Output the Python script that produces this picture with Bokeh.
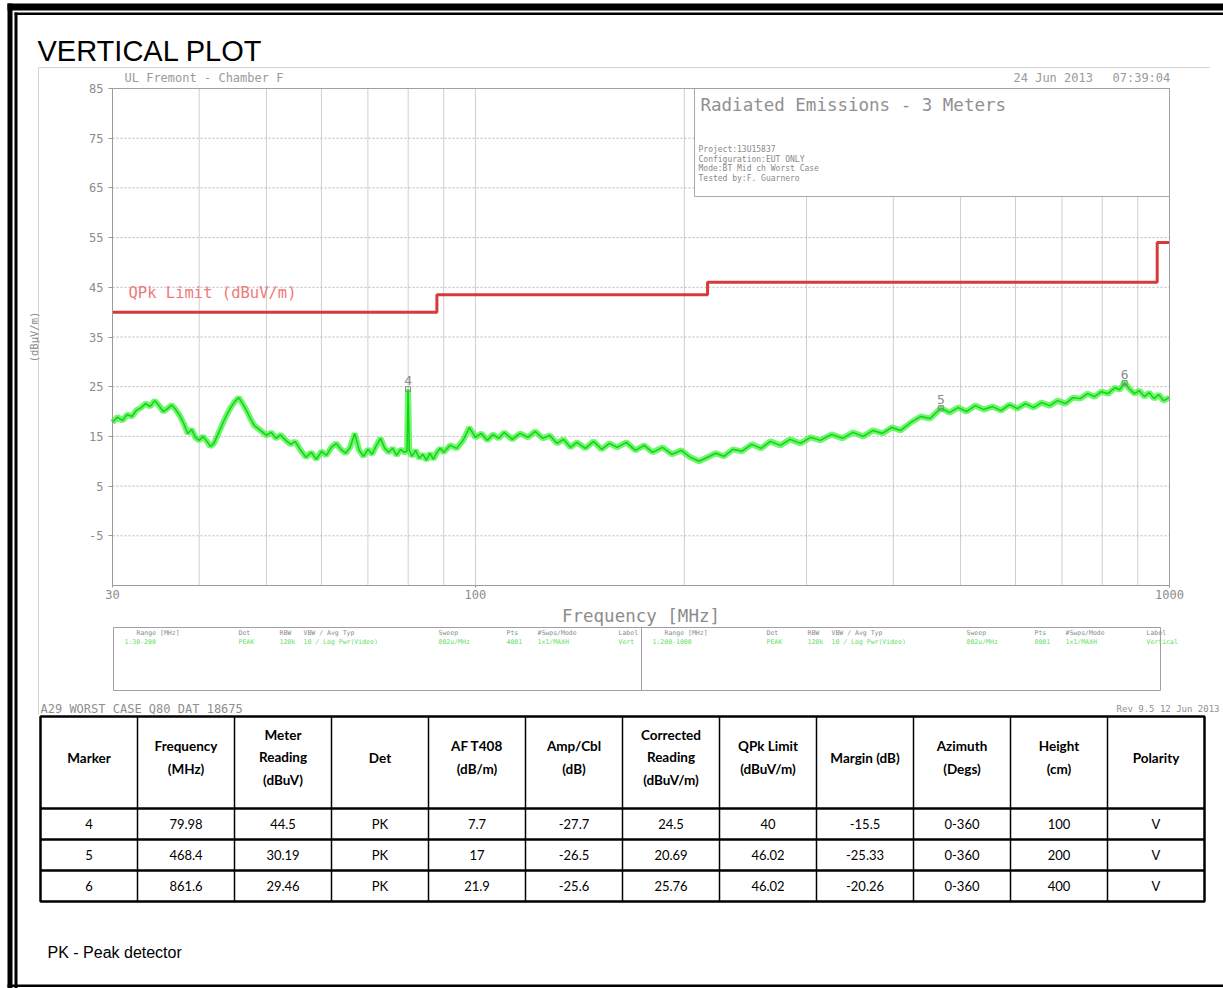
import math
from bokeh.plotting import figure
from bokeh.models import Range1d, LogScale, LinearAxis, FixedTicker, PrintfTickFormatter
from bokeh.core.properties import value
from bokeh.embed import file_html
from bokeh.resources import INLINE

# ---------------- data ----------------
freq_mhz = [30.0, 30.5, 31.0, 31.5, 32.0, 32.5, 33.0, 33.5, 34.0, 34.5, 35.0, 35.5, 36.0, 36.5,
            37.0, 37.5, 38.0, 38.5, 39.0, 39.5, 40.0, 40.5, 41.0, 41.5, 42.0, 42.5, 43.0, 43.5,
            44.0, 44.5, 45.0, 45.6, 46.2, 46.8, 47.4, 48.0, 48.6, 49.2, 50.0, 50.8, 51.6, 52.4,
            53.3, 54.2, 55.0, 56.0, 57.0, 58.0, 59.0, 60.0, 61.0, 62.0, 63.0, 64.0, 65.0, 66.0,
            67.0, 68.0, 69.0, 70.0, 71.0, 72.0, 73.0, 74.0, 75.0, 76.0, 77.0, 78.0, 79.0, 79.7,
            79.98, 80.3, 81.0, 82.0, 83.0, 84.0, 85.0, 86.0, 87.0, 88.0, 89.0, 90.0, 92.0, 94.0,
            96.0, 98.0, 100.0, 102.0, 104.0, 106.0, 108.0, 110.0, 113.0, 116.0, 119.0, 122.0,
            125.0, 128.0, 131.0, 134.0, 137.0, 140.0, 144.0, 148.0, 152.0, 156.0, 160.0, 165.0,
            170.0, 175.0, 180.0, 186.0, 192.0, 198.0, 204.0, 210.0, 216.0, 222.0, 228.0, 235.0,
            242.0, 250.0, 258.0, 266.0, 275.0, 284.0, 294.0, 304.0, 314.0, 326.0, 338.0, 350.0,
            362.0, 374.0, 386.0, 398.0, 410.0, 424.0, 438.0, 452.0, 468.4, 482.0, 496.0, 510.0,
            525.0, 540.0, 556.0, 572.0, 588.0, 604.0, 620.0, 637.0, 654.0, 672.0, 690.0, 708.0,
            726.0, 744.0, 762.0, 780.0, 798.0, 816.0, 834.0, 848.0, 861.6, 875.0, 890.0, 905.0,
            920.0, 935.0, 950.0, 965.0, 980.0, 1000.0]
level_dbuv = [17.8, 18.9, 18.2, 19.4, 19.0, 20.3, 20.8, 21.6, 21.0, 22.2, 21.2, 20.0, 20.6, 21.3,
              20.4, 19.2, 17.6, 15.6, 16.4, 14.8, 14.2, 15.0, 14.1, 13.0, 13.6, 15.2, 16.8, 18.4,
              19.8, 21.0, 22.0, 22.8, 21.6, 20.2, 18.6, 17.2, 16.6, 16.0, 15.2, 15.8, 14.6, 15.3,
              14.2, 13.4, 14.0, 12.2, 10.8, 11.8, 10.4, 12.0, 11.2, 12.8, 13.6, 12.4, 11.6, 12.8,
              15.6, 12.2, 11.0, 12.4, 11.4, 13.2, 14.6, 12.6, 11.8, 12.6, 11.2, 12.4, 11.8, 12.0,
              24.5, 12.2, 11.0, 12.2, 10.6, 11.4, 10.2, 11.6, 10.4, 11.8, 12.6, 11.8, 13.2, 12.6,
              14.2, 16.8, 14.8, 15.6, 14.2, 15.4, 14.6, 15.8, 14.4, 15.6, 14.8, 16.0,
              14.6, 15.2, 13.6, 14.4, 12.8, 13.8, 12.6, 14.0, 12.4, 13.6, 12.8, 13.8,
              12.2, 13.2, 11.8, 12.8, 11.4, 12.2, 10.8, 10.0, 10.8, 11.6, 11.0, 12.4,
              12.0, 13.4, 12.6, 14.0, 13.2, 14.4, 13.6, 14.8, 14.2, 15.4, 14.6, 15.8,
              15.0, 16.2, 15.6, 16.8, 16.2, 17.8, 19.0, 18.6, 20.7, 19.8, 20.8, 20.0,
              21.2, 20.4, 21.0, 20.2, 21.4, 20.6, 21.6, 20.8, 21.8, 21.2, 22.2, 21.6,
              22.8, 22.6, 23.6, 23.0, 24.0, 23.6, 24.8, 24.4, 25.8, 24.6, 23.6, 24.2,
              23.0, 23.8, 22.6, 23.4, 22.2, 22.8]

limit_freq = [30, 88, 216, 960, 1000]
limit_level = [40, 43.5, 46, 54, 54]
grid_freqs = [40, 50, 60, 70, 80, 90, 100, 200, 300, 400, 500, 600, 700, 800, 900]
x_tick_labels = [30, 100, 1000]
y_ticks = [85, 75, 65, 55, 45, 35, 25, 15, 5, -5]
grid_levels = [75, 65, 55, 45, 35, 25, 15, 5, -5]

table_headers = ["Marker", "Frequency\n(MHz)", "Meter\nReading\n(dBuV)", "Det", "AF T408\n(dB/m)",
                 "Amp/Cbl\n(dB)", "Corrected\nReading\n(dBuV/m)", "QPk Limit\n(dBuV/m)", "Margin (dB)",
                 "Azimuth\n(Degs)", "Height\n(cm)", "Polarity"]
marker_ids = [4, 5, 6]
marker_freq = [79.98, 468.4, 861.6]
meter_reading = [44.5, 30.19, 29.46]
detector = ["PK", "PK", "PK"]
af_t408 = [7.7, 17, 21.9]
amp_cbl = [-27.7, -26.5, -25.6]
corrected = [24.5, 20.69, 25.76]
qpk_limit = [40, 46.02, 46.02]
margin_db = [-15.5, -25.33, -20.26]
azimuth = ["0-360", "0-360", "0-360"]
height_cm = [100, 200, 400]
polarity = ["V", "V", "V"]

info_title = "Radiated Emissions - 3 Meters"
info_lines = ["Project:13U15837", "Configuration:EUT ONLY", "Mode:BT Mid ch Worst Case", "Tested by:F. Guarnero"]
legend_headers = ["Range [MHz]", "Det", "RBW", "VBW / Avg Typ", "Sweep", "Pts", "#Swps/Mode", "Label"]
legend_left = ["1:30-200", "PEAK", "120k", "10 / Log Pwr(Video)", "802u/MHz", "4001", "1x1/MAXH", "Vert"]
legend_right = ["1:200-1000", "PEAK", "120k", "10 / Log Pwr(Video)", "802u/MHz", "8001", "1x1/MAXH", "Vertical"]

# ---------------- layout constants (page pixels) ----------------
W, H = 1223, 988
FX0, FX1, FY0, FY1 = 112, 1169, 88, 585          # spectrum frame
F_MIN, F_MAX, L_MIN, L_MAX = 30, 1000, -15, 85

dec_per_px = math.log10(F_MAX / F_MIN) / (FX1 - FX0)
f_lo = F_MIN * 10 ** (-FX0 * dec_per_px)
f_hi = F_MIN * 10 ** ((W - FX0) * dec_per_px)
db_per_px = (L_MAX - L_MIN) / (FY1 - FY0)
lv_hi = L_MAX + FY0 * db_per_px
lv_lo = L_MAX - (H - FY0) * db_per_px

MONO = value("DejaVu Sans Mono")
GRAY = "#8c8c8c"

p = figure(width=W, height=H, x_range=Range1d(0, W), y_range=Range1d(H, 0),
           x_axis_type=None, y_axis_type=None, min_border=0,
           toolbar_location=None, output_backend="svg", outline_line_color=None,
           background_fill_color="white", border_fill_color="white",
           extra_x_ranges={"freq": Range1d(f_lo, f_hi)}, extra_x_scales={"freq": LogScale()},
           extra_y_ranges={"level": Range1d(lv_lo, lv_hi)})
SR = dict(x_range_name="freq", y_range_name="level")

# page border (double line)
p.quad(left=[7, 14], right=[12, 17], top=[3, 12], bottom=[H, H], fill_color="black", line_color=None)
p.quad(left=[7, 14], right=[W, W], top=[3, 12], bottom=[10, 14.5], fill_color="black", line_color=None)
p.quad(left=[7], right=[W], top=[984], bottom=[986.5], fill_color="black", line_color=None)

# title
p.text(x=[37], y=[50], text=["VERTICAL PLOT"], text_font=value("Liberation Sans"),
       text_font_size=value("29px"), text_baseline="middle", text_color="black")

# chart image border (left and top edges)
p.segment(x0=[38, 38], y0=[67, 67], x1=[38, 1209], y1=[714, 67], line_color="#d4d4d4")

# header texts of the analyzer screen
p.text(x=[124, 1013, 1112], y=[77, 77, 77], text=["UL Fremont - Chamber F", "24 Jun 2013", "07:39:04"],
       text_font=MONO, text_font_size=value("12px"), text_color="#9a9a9a", text_baseline="middle")

# grid
p.segment(x0=grid_freqs, y0=L_MIN, x1=grid_freqs, y1=L_MAX, line_color="#cfcfcf", line_width=1, **SR)
p.segment(x0=F_MIN, y0=grid_levels, x1=F_MAX, y1=grid_levels, line_color="#b8b8b8",
          line_width=1, line_dash="2 2", **SR)

# info box
p.quad(left=[694], right=[FX1], top=[FY0], bottom=[196], fill_color="white", line_color="#a8a8a8")
p.text(x=[700], y=[104], text=[info_title], text_font=MONO, text_font_size=value("17.5px"),
       text_color="#909090", text_baseline="middle")
p.text(x=[698] * len(info_lines), y=[149 + 9.7 * i for i in range(len(info_lines))], text=info_lines,
       text_font=MONO, text_font_size=value("8px"), text_color="#888888", text_baseline="middle")

# limit line
p.step(x=limit_freq, y=limit_level, mode="after", line_color="#d83a3a", line_width=3, **SR)
p.text(x=[128], y=[292], text=["QPk Limit (dBuV/m)"], text_font=MONO, text_font_size=value("15.5px"),
       text_color="#f07a7a", text_baseline="middle")

# trace
p.line(x=freq_mhz, y=level_dbuv, line_color="#3cf53c", line_width=6, line_alpha=0.75, **SR)
p.line(x=freq_mhz, y=level_dbuv, line_color="#18d018", line_width=1.5, **SR)

# markers
p.scatter(x=marker_freq, y=corrected, marker="square", size=5, fill_color=None,
          line_color="#888888", **SR)
p.text(x=marker_freq, y=corrected, text=[str(m) for m in marker_ids], y_offset=-4,
       text_align="center", text_baseline="bottom", text_font=MONO, text_font_size=value("13px"),
       text_color="#8a8a8a", **SR)

# frame
p.quad(left=[F_MIN], right=[F_MAX], bottom=[L_MIN], top=[L_MAX], fill_color=None,
       line_color="#a0a0a0", **SR)

# axes
xaxis = LinearAxis(ticker=FixedTicker(ticks=x_tick_labels, minor_ticks=[]),
                   formatter=PrintfTickFormatter(format="%d"),
                   fixed_location=L_MIN, bounds=(F_MIN, F_MAX), axis_label="Frequency [MHz]", **SR)
yaxis = LinearAxis(ticker=FixedTicker(ticks=y_ticks, minor_ticks=[]),
                   formatter=PrintfTickFormatter(format="%d"),
                   fixed_location=F_MIN, bounds=(L_MIN, L_MAX), axis_label="(dBμV/m)", **SR)
for ax in (xaxis, yaxis):
    ax.axis_line_color = "#9a9a9a"
    ax.major_tick_line_color = "#9a9a9a"
    ax.major_tick_in = 0
    ax.minor_tick_out = 0
    ax.minor_tick_in = 0
    ax.major_label_text_font = "DejaVu Sans Mono"
    ax.major_label_text_font_size = "12px"
    ax.major_label_text_color = GRAY
    ax.axis_label_text_font = "DejaVu Sans Mono"
    ax.axis_label_text_font_style = "normal"
    ax.axis_label_text_color = GRAY
xaxis.major_tick_out = 2
xaxis.major_label_standoff = 2
xaxis.axis_label_text_font_size = "17.5px"
xaxis.axis_label_standoff = 4
yaxis.major_tick_out = 4
yaxis.major_label_standoff = 5
yaxis.axis_label_text_font_size = "10.5px"
yaxis.axis_label_standoff = 46
p.add_layout(xaxis, "below")
p.add_layout(yaxis, "left")

# legend box under the plot
LB_L, LB_R, LB_T, LB_B, LB_MID = 113, 1160, 627, 690, 641
legend_offsets = [23, 125, 166, 190, 325, 393, 424, 505]
p.quad(left=[LB_L], right=[LB_R], top=[LB_T], bottom=[LB_B], fill_color=None, line_color="#a0a0a0")
p.segment(x0=[LB_MID], y0=[LB_T], x1=[LB_MID], y1=[LB_B], line_color="#a0a0a0")
for start, vals in ((LB_L, legend_left), (LB_MID, legend_right)):
    xs = [start + o for o in legend_offsets]
    p.text(x=xs, y=[632] * len(xs), text=legend_headers, text_font=MONO, text_font_size=value("6.5px"),
           text_color="#8a8a8a", text_baseline="middle")
    p.text(x=[xs[0] - 12] + xs[1:], y=[641] * len(xs), text=vals, text_font=MONO,
           text_font_size=value("6.5px"), text_color="#5ee05e", text_baseline="middle")

p.text(x=[40], y=[708], text=["A29 WORST CASE Q80 DAT 18675"],
       text_font=MONO, text_font_size=value("12px"), text_color="#8f8f8f", text_baseline="middle")
p.text(x=[1219], y=[708], text=["Rev 9.5 12 Jun 2013"], text_align="right",
       text_font=MONO, text_font_size=value("9px"), text_color="#8f8f8f", text_baseline="middle")

# ---------------- table ----------------
TX0, TX1, TY0 = 40, 1204, 716
HEAD_H, ROW_H = 92, 31
ncol = len(table_headers)
cw = (TX1 - TX0) / ncol
TY1 = TY0 + HEAD_H + ROW_H * len(marker_ids)
col_x = [TX0 + cw * (i + 0.5) for i in range(ncol)]
columns = [marker_ids, marker_freq, meter_reading, detector, af_t408, amp_cbl, corrected,
           qpk_limit, margin_db, azimuth, height_cm, polarity]


def fmt(v):
    return f"{v:g}" if isinstance(v, (int, float)) else str(v)


inner_x = [TX0 + cw * i for i in range(1, ncol)]
p.segment(x0=inner_x, y0=TY0, x1=inner_x, y1=TY1, line_color="black", line_width=1.5)
row_y = [TY0 + HEAD_H + ROW_H * r for r in range(len(marker_ids))]
p.segment(x0=TX0, y0=row_y, x1=TX1, y1=row_y, line_color="black", line_width=2.5)
p.quad(left=[TX0], right=[TX1], top=[TY0], bottom=[TY1], fill_color=None, line_color="black",
       line_width=2.5)

p.text(x=col_x, y=[TY0 + HEAD_H / 2 - 5] * ncol, text=table_headers, text_align="center",
       text_baseline="middle", text_font=value("Lato"), text_font_style="bold",
       text_font_size=value("13.5px"), text_line_height=1.42, text_color="black")

cx, cy, ct = [], [], []
for r in range(len(marker_ids)):
    for c in range(ncol):
        cx.append(col_x[c])
        cy.append(TY0 + HEAD_H + ROW_H * (r + 0.5))
        ct.append(fmt(columns[c][r]))
p.text(x=cx, y=cy, text=ct, text_align="center", text_baseline="middle", text_font=value("Lato"),
       text_font_size=value("13px"), text_color="black")

p.text(x=[47], y=[952], text=["PK - Peak detector"], text_font=value("Liberation Sans"),
       text_font_size=value("16px"), text_baseline="middle", text_color="black")

open("out.html", "w").write(file_html(p, INLINE))
